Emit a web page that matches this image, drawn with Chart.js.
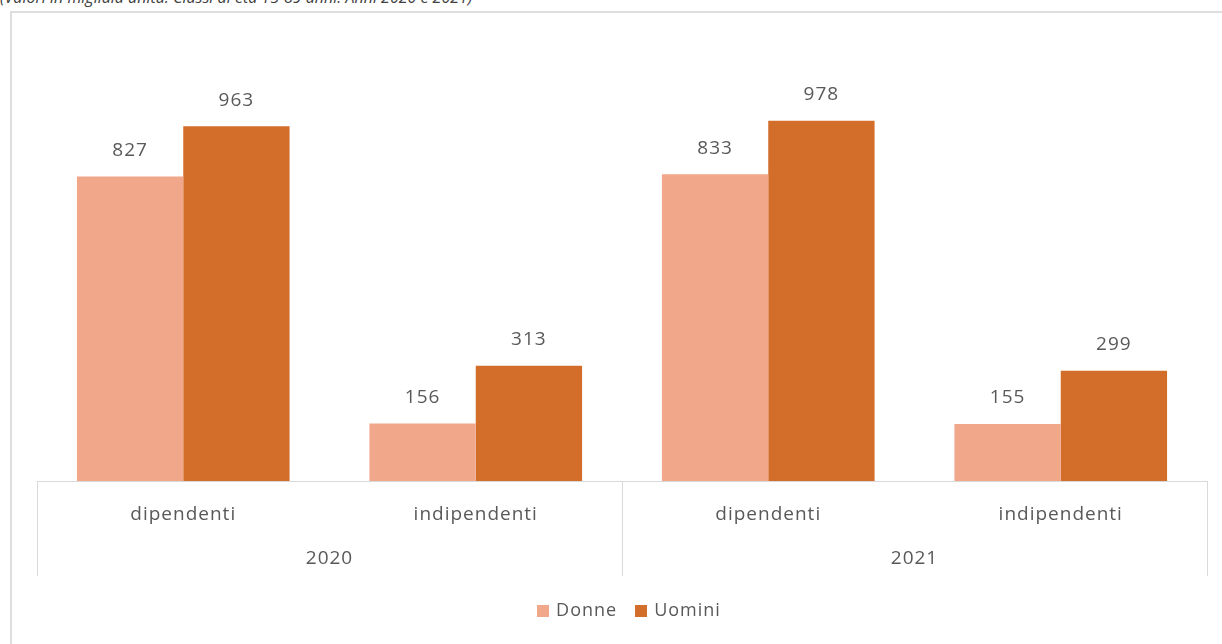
<!DOCTYPE html>
<html>
<head>
<meta charset="utf-8">
<script src="https://cdn.jsdelivr.net/npm/chart.js@4"></script>
<style>
  body { margin: 0; background: #fff; }
  #wrap { position: relative; width: 1222px; height: 644px; overflow: hidden; }
  #frame { position: absolute; left: 10px; top: 11px; width: 1300px; height: 700px; border: 2px solid #dedede; }
  #title { position: absolute; left: 0; top: -14px; font: italic 16px "Open Sans", sans-serif; color: #404040; white-space: nowrap; }
  #chart-box { position: absolute; left: 0; top: 0; width: 1222px; height: 644px; }
  #legend { position: absolute; left: 0; top: 597px; width: 1258px; text-align: center; font: 18px "Open Sans", sans-serif; letter-spacing: 1px; color: #595959; }
  #legend span.item { margin: 0 9px; }
  #legend span.box { display: inline-block; width: 12px; height: 12px; margin-right: 7px; vertical-align: -1px; }
</style>
</head>
<body>
<div id="wrap">
  <div id="frame"></div>
  <div id="title">(Valori in migliaia unità. Classi di età 15-89 anni. Anni 2020 e 2021)</div>
  <div id="chart-box"><canvas id="chart-occupati"></canvas></div>
  <div id="legend"></div>
</div>
<script>
const categories = ['dipendenti', 'indipendenti', 'dipendenti', 'indipendenti'];
const years = ['2020', '2021'];
const donne = [827, 156, 833, 155];
const uomini = [963, 313, 978, 299];
const seriesNames = ['Donne', 'Uomini'];
const seriesColors = ['#F1A78A', '#D36D2A'];

const textColor = '#595959';
const lineColor = '#d9d9d9';
const font = '"Open Sans", sans-serif';
const fontSize = 19;

// the excel text is spaced out a bit, so widen canvas text
const spacing = {
    id: 'spacing',
    beforeDraw(chart) {
        chart.ctx.letterSpacing = '1px';
    }
};

// value labels above each bar
const valueLabels = {
    id: 'valueLabels',
    afterDatasetsDraw(chart) {
        const ctx = chart.ctx;
        ctx.save();
        ctx.fillStyle = textColor;
        ctx.font = fontSize + 'px ' + font;
        ctx.textAlign = 'center';
        ctx.textBaseline = 'middle';
        chart.data.datasets.forEach((ds, i) => {
            chart.getDatasetMeta(i).data.forEach((bar, j) => {
                ctx.fillText(ds.data[j], bar.x, bar.y - 26);
            });
        });
        ctx.restore();
    }
};

// year grouping under the category axis
const yearGroups = {
    id: 'yearGroups',
    afterDraw(chart) {
        const xs = chart.scales.x;
        const ctx = chart.ctx;
        const top = xs.top;
        const bottom = 576;
        const per = categories.length / years.length;
        ctx.save();
        ctx.strokeStyle = lineColor;
        ctx.lineWidth = 1;
        const edges = [xs.left];
        years.forEach((y, g) => {
            const last = (g + 1) * per - 1;
            if (last < categories.length - 1) {
                edges.push((xs.getPixelForValue(last) + xs.getPixelForValue(last + 1)) / 2);
            }
        });
        edges.push(xs.right);
        edges.forEach(x => {
            ctx.beginPath();
            ctx.moveTo(Math.round(x) + 0.5, top);
            ctx.lineTo(Math.round(x) + 0.5, bottom);
            ctx.stroke();
        });
        ctx.fillStyle = textColor;
        ctx.font = fontSize + 'px ' + font;
        ctx.textAlign = 'center';
        ctx.textBaseline = 'middle';
        years.forEach((y, g) => {
            ctx.fillText(y, (edges[g] + edges[g + 1]) / 2, 559);
        });
        ctx.restore();
    }
};

new Chart(document.getElementById('chart-occupati'), {
    type: 'bar',
    data: {
        labels: categories,
        datasets: [
            { label: seriesNames[0], data: donne, backgroundColor: seriesColors[0] },
            { label: seriesNames[1], data: uomini, backgroundColor: seriesColors[1] }
        ]
    },
    options: {
        responsive: true,
        maintainAspectRatio: false,
        animation: false,
        layout: { padding: { left: 37, right: 15, top: 39, bottom: 0 } },
        datasets: { bar: { barPercentage: 1, categoryPercentage: 0.727, borderWidth: 0 } },
        plugins: { legend: { display: false }, tooltip: { enabled: false } },
        scales: {
            x: {
                grid: { display: false, drawTicks: false },
                border: { display: true, color: lineColor, width: 1 },
                ticks: { color: textColor, font: { family: font, size: fontSize }, padding: 22, maxRotation: 0, autoSkip: false },
                afterFit(scale) { scale.height = 163; }
            },
            y: { display: false, min: 0, max: 1200 }
        }
    },
    plugins: [spacing, valueLabels, yearGroups]
});

document.getElementById('legend').innerHTML = seriesNames.map((n, i) =>
    `<span class="item"><span class="box" style="background:${seriesColors[i]}"></span>${n}</span>`
).join('');
</script>
</body>
</html>
